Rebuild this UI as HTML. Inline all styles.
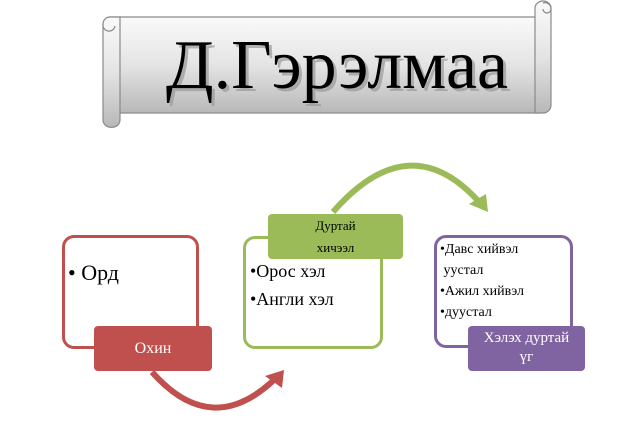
<!DOCTYPE html>
<html><head><meta charset="utf-8"><style>
body{margin:0;width:629px;height:437px;background:#fff;position:relative;overflow:hidden;font-family:"Liberation Serif","DejaVu Serif",serif}
.b{position:absolute;box-sizing:border-box;border-radius:12px;background:#fff;border:3px solid}
.l{position:absolute;box-sizing:border-box;border-radius:4px;color:#fff;text-align:center}
.t{position:absolute;color:#000;white-space:nowrap}
</style></head><body>
<svg width="629" height="437" style="position:absolute;left:0;top:0">
<defs>
<linearGradient id="g" x1="0" y1="0" x2="0" y2="1">
<stop offset="0" stop-color="#fafafa"/><stop offset="0.5" stop-color="#e4e4e4"/><stop offset="1" stop-color="#b8b8b8"/>
</linearGradient>
</defs>
<g stroke="#8a8a8a" stroke-width="1.2" fill="url(#g)">
<path d="M110 17 H540 V113 H118 Z"/>
<path d="M535 113 V8 a8 7 0 0 1 16 0 V105 a8 8 0 0 1 -8 8 Z"/>
<path d="M103 24 a7 7 0 0 1 7 -7 H120 V120 a8 7 0 0 1 -17 0 Z"/>
<path d="M103 24 a6 6 0 0 0 12 2" fill="none"/>
<path d="M543 3 a6 6 0 0 1 8 6 a4 4 0 0 1 -8 0" fill="none"/>
</g>
<text x="340" y="91" text-anchor="middle" font-family="Liberation Serif,serif" font-size="70" fill="#999" opacity="0.7">Д.Гэрэлмаа</text>
<text x="337" y="88" text-anchor="middle" font-family="Liberation Serif,serif" font-size="70" fill="#000">Д.Гэрэлмаа</text>
<path d="M152 372 Q212 440 276 378" fill="none" stroke="#c0504d" stroke-width="6"/>
<polygon points="284,370 265,376 282,388" fill="#c0504d"/>
<path d="M333 212 Q410 124 480 203" fill="none" stroke="#9bbb59" stroke-width="6"/>
<polygon points="488,212 469,204 486,194" fill="#9bbb59"/>
</svg>
<div class="b" style="left:62px;top:235px;width:137px;height:114px;border-color:#c0504d"></div>
<div class="t" style="left:68px;top:260px;font-size:22px">• Орд</div>
<div class="l" style="left:94px;top:326px;width:118px;height:45px;background:#c0504d;font-size:16px;line-height:45px">Охин</div>
<div class="b" style="left:243px;top:236px;width:140px;height:113px;border-color:#9bbb59"></div>
<div class="t" style="left:250px;top:261px;font-size:18px">•Орос хэл</div>
<div class="t" style="left:250px;top:289px;font-size:18px">•Англи хэл</div>
<div class="l" style="left:268px;top:214px;width:135px;height:45px;background:#9bbb59;color:#000;font-size:13px;line-height:22px;padding-top:1px">Дуртай<br>хичээл</div>
<div class="b" style="left:434px;top:235px;width:139px;height:113px;border-color:#8064a2"></div>
<div class="t" style="left:440px;top:239px;font-size:14px;line-height:21px">•Давс хийвэл<br>&nbsp;уустал<br>•Ажил хийвэл<br>•дуустал</div>
<div class="l" style="left:468px;top:326px;width:117px;height:45px;background:#8064a2;font-size:15px;line-height:19px;padding-top:3px">Хэлэх дуртай<br>үг</div>
</body></html>
